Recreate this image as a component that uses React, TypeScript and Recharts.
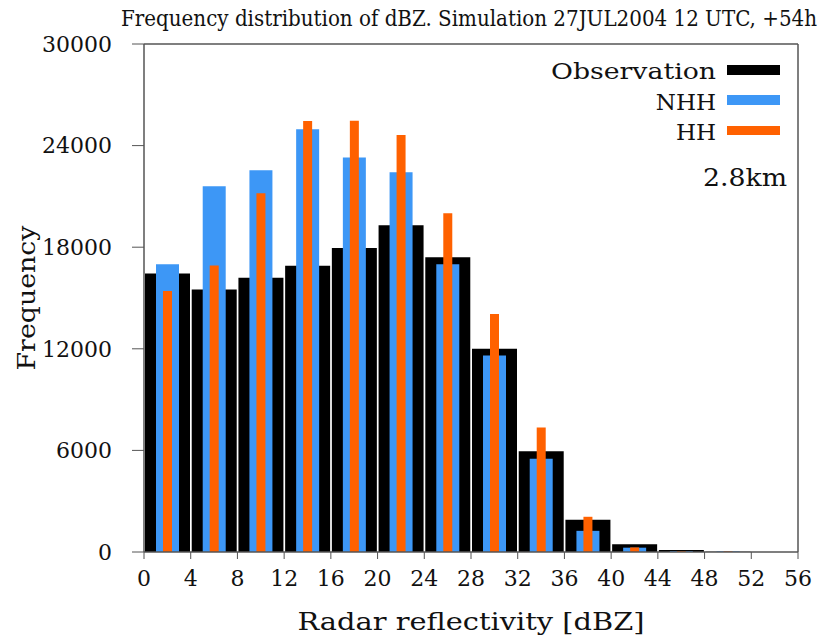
import React from 'react';
import { ComposedChart, Bar, XAxis, YAxis, ReferenceLine } from 'recharts';

const bins = ['0-4', '4-8', '8-12', '12-16', '16-20', '20-24', '24-28', '28-32', '32-36', '36-40', '40-44', '44-48', '48-52', '52-56'];
const centers = [2, 6, 10, 14, 18, 22, 26, 30, 34, 38, 42, 46, 50, 54];
const observation = [16450, 15500, 16200, 16900, 17950, 19300, 17400, 12000, 5950, 1900, 455, 118, 10, 0];
const nhh = [17000, 21600, 22550, 24970, 23290, 22420, 17000, 11600, 5500, 1250, 255, 60, 40, 0];
const hh = [15420, 16920, 21190, 25450, 25470, 24630, 20000, 14050, 7350, 2080, 270, 60, 40, 0];
const xTicks = [0, 4, 8, 12, 16, 20, 24, 28, 32, 36, 40, 44, 48, 52, 56];
const yTicks = [0, 6000, 12000, 18000, 24000, 30000];

const data = bins.map((b, i) => ({ bin: b, center: centers[i], obs: observation[i], nhh: nhh[i], hh: hh[i] }));

const FONT = '"DejaVu Serif", "Liberation Serif", serif';
const TITLE_FONT = '"DejaVu Serif Condensed", "DejaVu Serif", "Liberation Serif", serif';
const AXIS = '#555';
const BLUE = '#3d97f6';
const ORANGE = '#ff6100';

export default function App() {
  return (
    <div style={{ position: 'absolute', left: 0, top: 0, width: 823, height: 636, background: '#fff' }}>
      <ComposedChart
        width={823}
        height={636}
        data={data}
        margin={{ top: 44, right: 25, bottom: 34, left: 44 }}
      >
        <XAxis
          xAxisId="t"
          dataKey="center"
          type="number"
          domain={[0, 56]}
          ticks={xTicks}
          allowDataOverflow
          height={50}
          tickSize={7}
          tickMargin={11}
          stroke={AXIS}
          tick={{ fill: '#111', fontFamily: FONT, fontSize: 22 }}
          tickLine={{ stroke: AXIS }}
          axisLine={{ stroke: AXIS, strokeWidth: 1.5 }}
        />
        <XAxis xAxisId="o" dataKey="bin" type="category" hide height={0} />
        <XAxis xAxisId="n" dataKey="bin" type="category" hide height={0} />
        <XAxis xAxisId="h" dataKey="bin" type="category" hide height={0} />
        <YAxis
          domain={[0, 30000]}
          ticks={yTicks}
          allowDataOverflow
          width={100}
          tickSize={12}
          tickMargin={20}
          tick={{ fill: '#111', fontFamily: FONT, fontSize: 22 }}
          tickLine={{ stroke: AXIS }}
          axisLine={{ stroke: AXIS, strokeWidth: 1.5 }}
        />
        <Bar xAxisId="o" dataKey="obs" fill="#000" barSize={45} isAnimationActive={false} />
        <Bar xAxisId="n" dataKey="nhh" fill={BLUE} barSize={23} isAnimationActive={false} />
        <Bar xAxisId="h" dataKey="hh" fill={ORANGE} barSize={9} isAnimationActive={false} />
        <ReferenceLine xAxisId="t" y={30000} stroke={AXIS} strokeWidth={1.5} />
        <ReferenceLine xAxisId="t" x={56} stroke={AXIS} strokeWidth={1.5} />

        <text x={469} y={26} textAnchor="middle" fontFamily={TITLE_FONT} fontSize={22} textLength={696} lengthAdjust="spacingAndGlyphs" fill="#111">
          Frequency distribution of dBZ. Simulation 27JUL2004 12 UTC, +54h
        </text>
        <text x={471} y={630} textAnchor="middle" fontFamily={FONT} fontSize={24} textLength={347} lengthAdjust="spacingAndGlyphs" fill="#111">
          Radar reflectivity [dBZ]
        </text>
        <text x={0} y={0} transform="translate(35,298) rotate(-90)" textAnchor="middle" fontFamily={FONT} fontSize={24} textLength={145} lengthAdjust="spacingAndGlyphs" fill="#111">
          Frequency
        </text>

        <text x={716} y={79} textAnchor="end" fontFamily={FONT} fontSize={23} textLength={165} lengthAdjust="spacingAndGlyphs" fill="#111">Observation</text>
        <rect x={727} y={65} width={53} height={10} fill="#000" />
        <text x={716} y={110} textAnchor="end" fontFamily={FONT} fontSize={23} fill="#111">NHH</text>
        <rect x={727} y={95} width={53} height={10} fill={BLUE} />
        <text x={716} y={140} textAnchor="end" fontFamily={FONT} fontSize={23} fill="#111">HH</text>
        <rect x={727} y={126} width={53} height={9} fill={ORANGE} />
        <text x={787} y={186} textAnchor="end" fontFamily={FONT} fontSize={24} textLength={84} lengthAdjust="spacingAndGlyphs" fill="#111">2.8km</text>
      </ComposedChart>
    </div>
  );
}
